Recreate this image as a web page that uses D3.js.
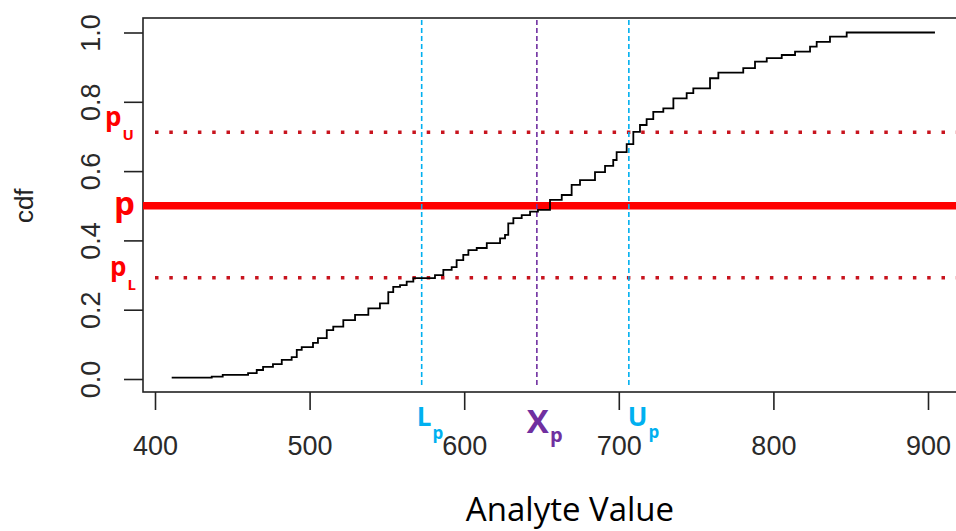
<!DOCTYPE html>
<html>
<head>
<meta charset="utf-8">
<script src="https://cdn.jsdelivr.net/npm/d3@7"></script>
<style>
  body { margin: 0; background: #fff; }
  #chart { width: 956px; height: 531px; }
</style>
</head>
<body>
<div id="chart"></div>
<script>
const analyteValues = [410.8, 436.7, 443.8, 460.2, 465.8, 469.9, 476.3, 482.0, 488.4, 491.7,
    494.9, 502.2, 505.4, 511.1, 515.3, 521.8, 529.4, 538.0, 545.5, 550.9,
    554.1, 558.5, 562.8, 567.1, 581.1, 586.5, 591.9, 595.1, 599.4, 602.7,
    608.1, 614.6, 623.2, 626.4, 628.5, 631.8, 637.2, 642.6, 647.7, 655.5,
    663.1, 669.5, 674.9, 684.6, 691.1, 696.4, 698.6, 705.1, 709.4, 713.7,
    718.0, 722.3, 728.8, 735.3, 743.9, 748.2, 759.0, 764.4, 780.5, 788.1,
    795.7, 805.4, 814.0, 823.7, 828.0, 836.6, 847.4, 904.5];
const cdfValues = [0.004, 0.007, 0.012, 0.017, 0.026, 0.035, 0.043, 0.055, 0.063, 0.084,
    0.092, 0.104, 0.118, 0.141, 0.151, 0.170, 0.185, 0.204, 0.218, 0.251,
    0.266, 0.271, 0.281, 0.291, 0.300, 0.315, 0.323, 0.343, 0.358, 0.372,
    0.378, 0.392, 0.406, 0.416, 0.449, 0.464, 0.473, 0.483, 0.488, 0.517,
    0.531, 0.560, 0.574, 0.597, 0.615, 0.632, 0.655, 0.678, 0.713, 0.733,
    0.750, 0.771, 0.781, 0.810, 0.825, 0.839, 0.868, 0.884, 0.897, 0.916,
    0.926, 0.935, 0.945, 0.959, 0.973, 0.988, 1.000, 1.000];

const xTicks = [400, 500, 600, 700, 800, 900];
const yTicks = [0.0, 0.2, 0.4, 0.6, 0.8, 1.0];

// probability levels and the matching quantile / limits
const pLevel = 0.5;
const pLower = 0.292;
const pUpper = 0.712;
const lowerLimit = 572.5;
const quantile = 647;
const upperLimit = 706.5;

class Chart {

    constructor(opts) {
        this.element = opts.element;
        this.data = opts.data;
        this.draw();
    }

    draw() {
        this.width = 956;
        this.height = 531;
        // plot box edges in px (box runs past the right border)
        this.box = { left: 143, top: 18, right: 962, bottom: 392 };

        this.svg = d3.select(this.element).append('svg')
            .attr('width', this.width)
            .attr('height', this.height);

        this.createScales();
        this.addBox();
        this.addAxes();
        this.addGuides();
        this.addLine();
        this.addLabels();
    }

    createScales() {
        this.xScale = d3.scaleLinear()
            .domain([400, 900])
            .range([155, 928]);

        this.yScale = d3.scaleLinear()
            .domain([0, 1])
            .range([379, 32.5]);
    }

    addBox() {
        const b = this.box;
        this.svg.append('rect')
            .attr('x', b.left)
            .attr('y', b.top)
            .attr('width', b.right - b.left)
            .attr('height', b.bottom - b.top)
            .attr('fill', 'none')
            .attr('stroke', '#222')
            .attr('stroke-width', 1.6);
    }

    addAxes() {
        const b = this.box;
        const font = '"Liberation Sans", Arial, sans-serif';

        const xAxis = d3.axisBottom(this.xScale)
            .tickValues(xTicks)
            .tickSize(18)
            .tickFormat(d3.format('d'));

        const gx = this.svg.append('g')
            .attr('transform', `translate(0,${b.bottom})`)
            .call(xAxis);
        gx.select('.domain').remove();
        gx.selectAll('line').attr('stroke', '#222').attr('stroke-width', 1.6);
        gx.selectAll('text')
            .attr('y', 63)
            .attr('dy', 0)
            .attr('fill', '#2a2a2a')
            .style('font-family', font)
            .style('font-size', '27px');

        const yAxis = d3.axisLeft(this.yScale)
            .tickValues(yTicks)
            .tickSize(19)
            .tickFormat(d3.format('.1f'));

        const gy = this.svg.append('g')
            .attr('transform', `translate(${b.left},0)`)
            .call(yAxis);
        gy.select('.domain').remove();
        gy.selectAll('line').attr('stroke', '#222').attr('stroke-width', 1.6);
        gy.selectAll('text')
            .attr('transform', 'rotate(-90)')
            .attr('x', 0)
            .attr('y', -43)
            .attr('dy', 0)
            .attr('text-anchor', 'middle')
            .attr('fill', '#2a2a2a')
            .style('font-family', font)
            .style('font-size', '27px');

        // axis titles
        this.svg.append('text')
            .attr('transform', `translate(33,${this.yScale(0.5)}) rotate(-90)`)
            .attr('text-anchor', 'middle')
            .attr('fill', '#222')
            .style('font-family', font)
            .style('font-size', '26px')
            .text('cdf');

        this.svg.append('text')
            .attr('x', 570)
            .attr('y', 521)
            .attr('text-anchor', 'middle')
            .attr('fill', '#000')
            .style('font-family', '"Open Sans", sans-serif')
            .style('font-size', '33px')
            .text('Analyte Value');
    }

    addGuides() {
        const b = this.box;
        const x = this.xScale, y = this.yScale;

        // dotted limits of p
        [pLower, pUpper].forEach(v => {
            this.svg.append('line')
                .attr('x1', b.left + 12).attr('x2', b.right)
                .attr('y1', y(v)).attr('y2', y(v))
                .attr('stroke', '#c8141e')
                .attr('stroke-width', 3.5)
                .attr('stroke-dasharray', '3.5,10.8');
        });

        // thick p line
        this.svg.append('line')
            .attr('x1', b.left).attr('x2', b.right)
            .attr('y1', y(pLevel)).attr('y2', y(pLevel))
            .attr('stroke', '#ff0000')
            .attr('stroke-width', 7.5);

        // vertical dashed markers
        const verticals = [
            { v: lowerLimit, c: '#00b0f0' },
            { v: quantile, c: '#7030a0' },
            { v: upperLimit, c: '#00b0f0' }
        ];
        this.svg.selectAll('.vline')
            .data(verticals)
            .enter()
            .append('line')
            .attr('class', 'vline')
            .attr('x1', d => x(d.v)).attr('x2', d => x(d.v))
            .attr('y1', b.top + 2).attr('y2', 388)
            .attr('stroke', d => d.c)
            .attr('stroke-width', 1.6)
            .attr('stroke-dasharray', '5,3');
    }

    addLine() {
        const line = d3.line()
            .x(d => this.xScale(d[0]))
            .y(d => this.yScale(d[1]))
            .curve(d3.curveStepAfter);

        this.svg.append('path')
            .datum(this.data)
            .attr('d', line)
            .attr('fill', 'none')
            .attr('stroke', '#000')
            .attr('stroke-width', 1.8);
    }

    addLabels() {
        const font = '"Open Sans", sans-serif';
        const x = this.xScale, y = this.yScale;

        const label = (px, py, main, sub, color, size, subSize, subDy) => {
            const t = this.svg.append('text')
                .attr('x', px)
                .attr('y', py)
                .attr('fill', color)
                .style('font-family', font)
                .style('font-weight', 700)
                .style('font-size', size + 'px');
            t.append('tspan').text(main);
            if (sub) {
                t.append('tspan')
                    .attr('dx', 1)
                    .attr('dy', subDy)
                    .style('font-size', subSize + 'px')
                    .text(sub);
            }
        };

        // left side probability labels
        label(114, y(pLevel) + 9, 'p', '', '#ff0000', 33);
        label(105, y(pUpper) - 6, 'p', 'U', '#ff0000', 26, 15, 14);
        label(110, y(pLower) - 2, 'p', 'L', '#ff0000', 26, 15, 14);

        // labels under the axis
        label(x(lowerLimit) - 5, 426, 'L', 'p', '#00b0f0', 26, 17, 13);
        label(x(quantile) - 10, 433, 'X', 'p', '#7030a0', 33, 20, 9);
        label(x(upperLimit) - 1, 426, 'U', 'p', '#00b0f0', 26, 17, 12);
    }
}

new Chart({
    element: document.getElementById('chart'),
    data: analyteValues.map((v, i) => [v, cdfValues[i]])
});
</script>
</body>
</html>
